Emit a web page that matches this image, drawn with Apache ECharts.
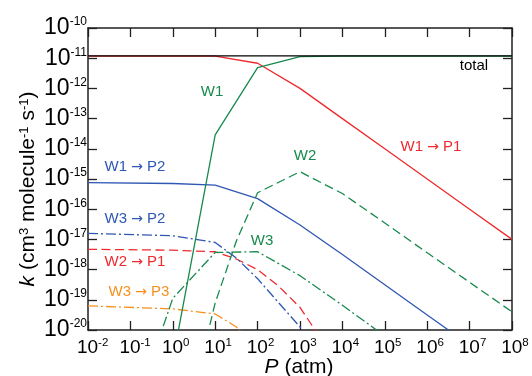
<!DOCTYPE html>
<html><head><meta charset="utf-8">
<script src="https://cdn.jsdelivr.net/npm/echarts@6/dist/echarts.min.js"></script>
<style>html,body{margin:0;padding:0;background:#fff}#c{width:532px;height:376px}</style>
</head><body><div id="c"></div>
<script>
// ---- data ----
const P_total = [1e-2, 1e8];
const k_total = [1.2e-11, 1.2e-11];

const P_W1P1 = [1e-2, 1e-1, 1, 10, 100, 1e3, 1e4, 1e5, 1e6, 1e7, 1e8];
const k_W1P1 = [1.17e-11, 1.17e-11, 1.17e-11, 1.17e-11, 6.8e-12, 1.0e-12, 1.0e-13, 1.0e-14, 1.0e-15, 1.0e-16, 1.0e-17];

const P_W1 = [1, 10, 100, 1e3, 1e4, 1e5, 1e6, 1e7, 1e8];
const k_W1 = [1.0e-21, 2.9e-14, 4.9e-12, 1.12e-11, 1.18e-11, 1.18e-11, 1.18e-11, 1.18e-11, 1.18e-11];

const P_W2 = [3.16, 10, 31.6, 100, 1e3, 1e4, 1e5, 1e6, 1e7, 1e8];
const k_W2 = [1.0e-22, 7.9e-20, 8.9e-18, 3.5e-16, 1.74e-15, 3.3e-16, 3.5e-17, 3.6e-18, 3.8e-19, 4.0e-20];

const P_W3 = [0.316, 1, 10, 100, 1e3, 1e4, 1e5];
const k_W3 = [1.0e-21, 1.12e-19, 3.7e-18, 3.9e-18, 6.3e-19, 6.6e-20, 6.3e-21];

const P_W1P2 = [1e-2, 1, 10, 100, 1e3, 1e4, 1e5, 1e6, 1e7];
const k_W1P2 = [7.6e-16, 7.1e-16, 6.3e-16, 2.24e-16, 3.0e-17, 3.16e-18, 3.16e-19, 3.16e-20, 3.16e-21];

const P_W3P2 = [1e-2, 1, 10, 31.6, 100, 316, 1e3, 3162];
const k_W3P2 = [1.58e-17, 1.32e-17, 7.9e-18, 2.4e-18, 5.0e-19, 7.9e-20, 1.26e-20, 1.58e-21];

const P_W2P1 = [1e-2, 1, 10, 31.6, 100, 316, 1e3, 3162];
const k_W2P1 = [4.7e-18, 4.4e-18, 3.9e-18, 2.24e-18, 1.0e-18, 2.8e-19, 5.6e-20, 5.0e-21];

const P_W3P3 = [1e-2, 1, 10, 31.6, 100];
const k_W3P3 = [6.3e-20, 5.0e-20, 3.4e-20, 1.26e-20, 2.0e-21];

// ---- styling ----
const RED = '#ee2a2e', GREEN = '#17894c', BLUE = '#2f57b4', ORANGE = '#f7901e', AX = '#231f20';
const DASH = [9, 4.5], DASHDOT = [10, 3, 2, 3];
const FONT = 'Liberation Sans, Arial, sans-serif';

const pairs = (xs, ys) => xs.map((x, i) => [x, ys[i]]);
function line(name, xs, ys, color, type, z) {
  return { name, type: 'line', data: pairs(xs, ys), showSymbol: false, symbol: 'none',
    clip: true, z: z || 2, animation: false,
    lineStyle: { color, width: 1.3, type } };
}
const exp = v => Math.round(Math.log10(v));
const axisCommon = {
  type: 'log', logBase: 10, interval: 1,
  axisLine: { show: true, onZero: false, lineStyle: { color: AX, width: 1.5 } },
  axisTick: { show: true, inside: true, length: 9, lineStyle: { color: AX, width: 1.3 } },
  minorTick: { show: false }, splitLine: { show: false }
};
const arrowRich = (color) => ({ a: { fontFamily: 'DejaVu Sans', fontSize: 14, fill: color, color } });
function lab(x, y, parts, color) {
  return { type: 'text', x, y, style: { text: parts, fill: color, font: '15px ' + FONT,
    align: 'center', verticalAlign: 'middle', rich: arrowRich(color) } };
}

const chart = echarts.init(document.getElementById('c'), null, { renderer: 'canvas' });
chart.setOption({
  animation: false,
  backgroundColor: '#fff',
  grid: { left: 88, right: 20, top: 28, bottom: 46, containLabel: false },
  xAxis: [
    Object.assign({}, axisCommon, { position: 'bottom', min: 1e-2, max: 1e8,
      axisLabel: { margin: 7, interval: 0, hideOverlap: false, fontFamily: FONT, color: '#000', showMinLabel: true, showMaxLabel: true,
        formatter: v => `{sp|${exp(v)}}{b|10}{s|${exp(v)}}`,
        rich: { b: { fontSize: 19, fontFamily: FONT, color: '#000', lineHeight: 22 },
                s: { fontSize: 11.5, fontFamily: FONT, color: '#000', verticalAlign: 'top', lineHeight: 14 },
                sp: { fontSize: 10.5, fontFamily: FONT, color: 'rgba(0,0,0,0)', verticalAlign: 'top', lineHeight: 14 } } } }),
    Object.assign({}, axisCommon, { position: 'top', min: 1e-2, max: 1e8, axisLabel: { show: false } })
  ],
  yAxis: [
    Object.assign({}, axisCommon, { position: 'left', min: 1e-20, max: 1e-10,
      axisLabel: { margin: 1, interval: 0, hideOverlap: false, fontFamily: FONT, color: '#000', showMinLabel: true, showMaxLabel: true,
        formatter: v => `{b|10}{s|${exp(v)}}`,
        rich: { b: { fontSize: 23, fontFamily: FONT, color: '#000', lineHeight: 24 },
                s: { fontSize: 12, fontFamily: FONT, color: '#000', verticalAlign: 'top', lineHeight: 14 } } } }),
    Object.assign({}, axisCommon, { position: 'right', min: 1e-20, max: 1e-10, axisLabel: { show: false } })
  ],
  series: [
    line('W3→P3', P_W3P3, k_W3P3, ORANGE, DASHDOT),
    line('W2→P1', P_W2P1, k_W2P1, RED, DASH),
    line('W3→P2', P_W3P2, k_W3P2, BLUE, DASHDOT),
    line('W1→P2', P_W1P2, k_W1P2, BLUE, 'solid'),
    line('W3', P_W3, k_W3, GREEN, DASHDOT),
    line('W2', P_W2, k_W2, GREEN, DASH),
    line('W1→P1', P_W1P1, k_W1P1, RED, 'solid'),
    line('W1', P_W1, k_W1, GREEN, 'solid'),
    line('total', P_total, k_total, '#000', 'solid', 5)
  ],
  graphic: [
    lab(135, 167, 'W1 {a|→} P2', BLUE),
    lab(135, 219, 'W3 {a|→} P2', BLUE),
    lab(135, 262, 'W2 {a|→} P1', RED),
    lab(139, 292, 'W3 {a|→} P3', ORANGE),
    lab(212, 92, 'W1', GREEN),
    lab(305, 156, 'W2', GREEN),
    lab(262, 241, 'W3', GREEN),
    lab(431, 147, 'W1 {a|→} P1', RED),
    lab(474, 66, 'total', '#000'),
    { type: 'text', x: 299, y: 367, style: {
        text: '{i|P} (atm)', fill: '#000', font: '21px ' + FONT, align: 'center', verticalAlign: 'middle',
        rich: { i: { fontStyle: 'italic', fontSize: 21, fontFamily: FONT, fill: '#000' } } } },
    { type: 'text', x: 28, y: 189, rotation: Math.PI / 2, style: {
        text: '{i|k} (cm{s|3} molecule{s|-1} s{s|-1})', fill: '#000', font: '21px ' + FONT,
        align: 'center', verticalAlign: 'middle',
        rich: { i: { fontStyle: 'italic', fontSize: 21, fontFamily: FONT },
                s: { fontSize: 13, fontFamily: FONT, verticalAlign: 'top' } } } }
  ]
});
</script></body></html>
